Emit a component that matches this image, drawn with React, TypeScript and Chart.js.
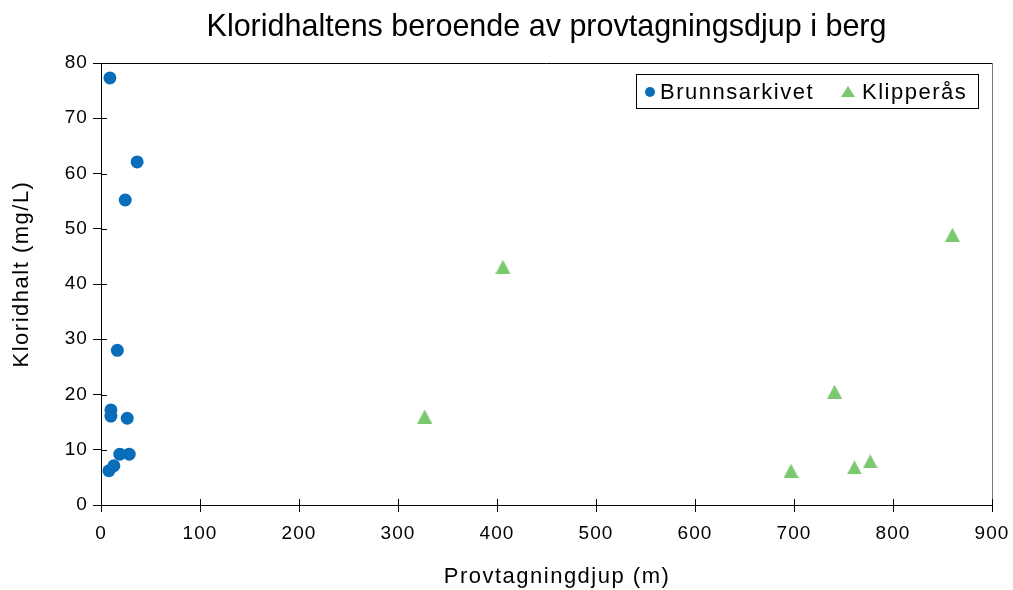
import React, { useEffect, useRef } from "react";
import { Chart, registerables } from "chart.js";

Chart.register(...registerables);

const TITLE = "Kloridhaltens beroende av provtagningsdjup i berg";
const X_TITLE = "Provtagningdjup (m)";
const Y_TITLE = "Kloridhalt (mg/L)";

const brunnsLabel = "Brunnsarkivet";
const brunnsDepth = [9, 36.5, 24.5, 16.5, 10, 10, 26.5, 19, 28.5, 8, 13];
const brunnsChloride = [77.3, 62.1, 55.2, 28, 17.2, 16.1, 15.7, 9.2, 9.2, 6.2, 7.1];

const klipperLabel = "Klipperås";
const klipperDepth = [327, 406, 697, 761, 777, 741, 860];
const klipperChloride = [16, 43.1, 6.2, 6.8, 7.9, 20.5, 48.9];

const xTicks = [0, 100, 200, 300, 400, 500, 600, 700, 800, 900];
const yTicks = [0, 10, 20, 30, 40, 50, 60, 70, 80];

const BLUE = "#0A6DBA";
const GREEN = "#7BC96F";
const FONT = "'Liberation Sans', Arial, sans-serif";

function makeTriangle(w: number, h: number, color: string) {
  const c = document.createElement("canvas");
  c.width = w;
  c.height = h;
  const g = c.getContext("2d")!;
  g.fillStyle = color;
  g.beginPath();
  g.moveTo(w / 2, 0);
  g.lineTo(w, h);
  g.lineTo(0, h);
  g.closePath();
  g.fill();
  return c;
}

const decorPlugin = {
  id: "decor",
  beforeDraw(chart: any) {
    (chart.ctx as any).letterSpacing = "1.1px";
  },
  afterDraw(chart: any) {
    const { ctx, chartArea } = chart;
    const { left, right, top, bottom } = chartArea;
    const xs = chart.scales.x;
    const ys = chart.scales.y;
    ctx.save();
    ctx.lineWidth = 1;
    ctx.strokeStyle = "#000";
    ctx.beginPath();
    ctx.moveTo(left, top + 0.5);
    ctx.lineTo(right, top + 0.5);
    ctx.stroke();
    ctx.strokeStyle = "#777";
    ctx.beginPath();
    ctx.moveTo(right + 0.5, top);
    ctx.lineTo(right + 0.5, bottom);
    ctx.stroke();
    ctx.strokeStyle = "#000";
    ctx.beginPath();
    xTicks.forEach((v) => {
      const px = Math.round(xs.getPixelForValue(v)) + 0.5;
      ctx.moveTo(px, bottom);
      ctx.lineTo(px, bottom - 6);
    });
    yTicks.forEach((v) => {
      const py = Math.round(ys.getPixelForValue(v)) + 0.5;
      ctx.moveTo(left, py);
      ctx.lineTo(left + 6, py);
    });
    ctx.stroke();

    ctx.fillStyle = "#000";
    ctx.letterSpacing = "0px";
    ctx.font = `30.5px ${FONT}`;
    ctx.textAlign = "center";
    ctx.textBaseline = "middle";
    ctx.fillText(TITLE, (left + right) / 2, 28);

    ctx.letterSpacing = "1.5px";
    ctx.font = `22px ${FONT}`;
    ctx.fillText(X_TITLE, 557, 577);
    ctx.save();
    ctx.translate(22, 274);
    ctx.rotate(-Math.PI / 2);
    ctx.fillText(Y_TITLE, 0, 0);
    ctx.restore();

    ctx.strokeStyle = "#000";
    ctx.lineWidth = 1;
    ctx.fillStyle = "#fff";
    ctx.fillRect(636.5, 74.5, 342, 34);
    ctx.strokeRect(636.5, 74.5, 342, 34);
    const ly = 92;
    ctx.fillStyle = BLUE;
    ctx.beginPath();
    ctx.arc(650, ly, 5, 0, Math.PI * 2);
    ctx.fill();
    ctx.fillStyle = GREEN;
    ctx.beginPath();
    ctx.moveTo(848, ly - 6);
    ctx.lineTo(855, ly + 5);
    ctx.lineTo(841, ly + 5);
    ctx.closePath();
    ctx.fill();
    ctx.fillStyle = "#000";
    ctx.letterSpacing = "1.5px";
    ctx.font = `22px ${FONT}`;
    ctx.textAlign = "left";
    ctx.fillText(brunnsLabel, 660, ly + 1);
    ctx.fillText(klipperLabel, 862, ly + 1);
    ctx.restore();
  },
};

export default function App() {
  const ref = useRef<HTMLCanvasElement | null>(null);
  useEffect(() => {
    if (!ref.current) return;
    const tri = makeTriangle(15, 14, GREEN);
    const chart = new Chart(ref.current, {
      type: "scatter",
      data: {
        datasets: [
          {
            label: brunnsLabel,
            data: brunnsDepth.map((x, i) => ({ x, y: brunnsChloride[i] })),
            backgroundColor: BLUE,
            borderColor: BLUE,
            borderWidth: 0,
            pointStyle: "circle",
            pointRadius: 6.5,
          },
          {
            label: klipperLabel,
            data: klipperDepth.map((x, i) => ({ x, y: klipperChloride[i] })),
            backgroundColor: GREEN,
            borderColor: GREEN,
            borderWidth: 0,
            pointStyle: tri as any,
            pointRadius: 8,
          },
        ],
      },
      options: {
        animation: false,
        responsive: true,
        maintainAspectRatio: false,
        layout: { padding: { left: 0, top: 63, right: 21, bottom: 0 } },
        plugins: {
          legend: { display: false },
          title: { display: false },
          tooltip: { enabled: false },
        },
        scales: {
          x: {
            type: "linear",
            min: 0,
            max: 900,
            afterFit: (s: any) => {
              s.height = 85;
              s.paddingLeft = 0;
              s.paddingRight = 0;
            },
            afterBuildTicks: (s: any) => {
              s.ticks = xTicks.map((v) => ({ value: v }));
            },
            ticks: {
              color: "#000",
              font: { family: FONT, size: 19 },
              padding: 10,
              maxRotation: 0,
            },
            grid: {
              drawOnChartArea: false,
              drawTicks: true,
              tickLength: 7,
              color: "#000",
            },
            border: { display: true, color: "#000", width: 1 },
          },
          y: {
            type: "linear",
            min: 0,
            max: 80,
            afterFit: (s: any) => {
              s.width = 101;
              s.paddingTop = 0;
              s.paddingBottom = 0;
            },
            afterBuildTicks: (s: any) => {
              s.ticks = yTicks.map((v) => ({ value: v }));
            },
            ticks: {
              color: "#000",
              font: { family: FONT, size: 19 },
              padding: 5,
            },
            grid: {
              drawOnChartArea: false,
              drawTicks: true,
              tickLength: 8,
              color: "#000",
            },
            border: { display: true, color: "#000", width: 1 },
          },
        },
      },
      plugins: [decorPlugin],
    });
    return () => chart.destroy();
  }, []);
  return (
    <div style={{ position: "fixed", left: 0, top: 0, width: 1013, height: 590, background: "#fff" }}>
      <canvas ref={ref} />
    </div>
  );
}
